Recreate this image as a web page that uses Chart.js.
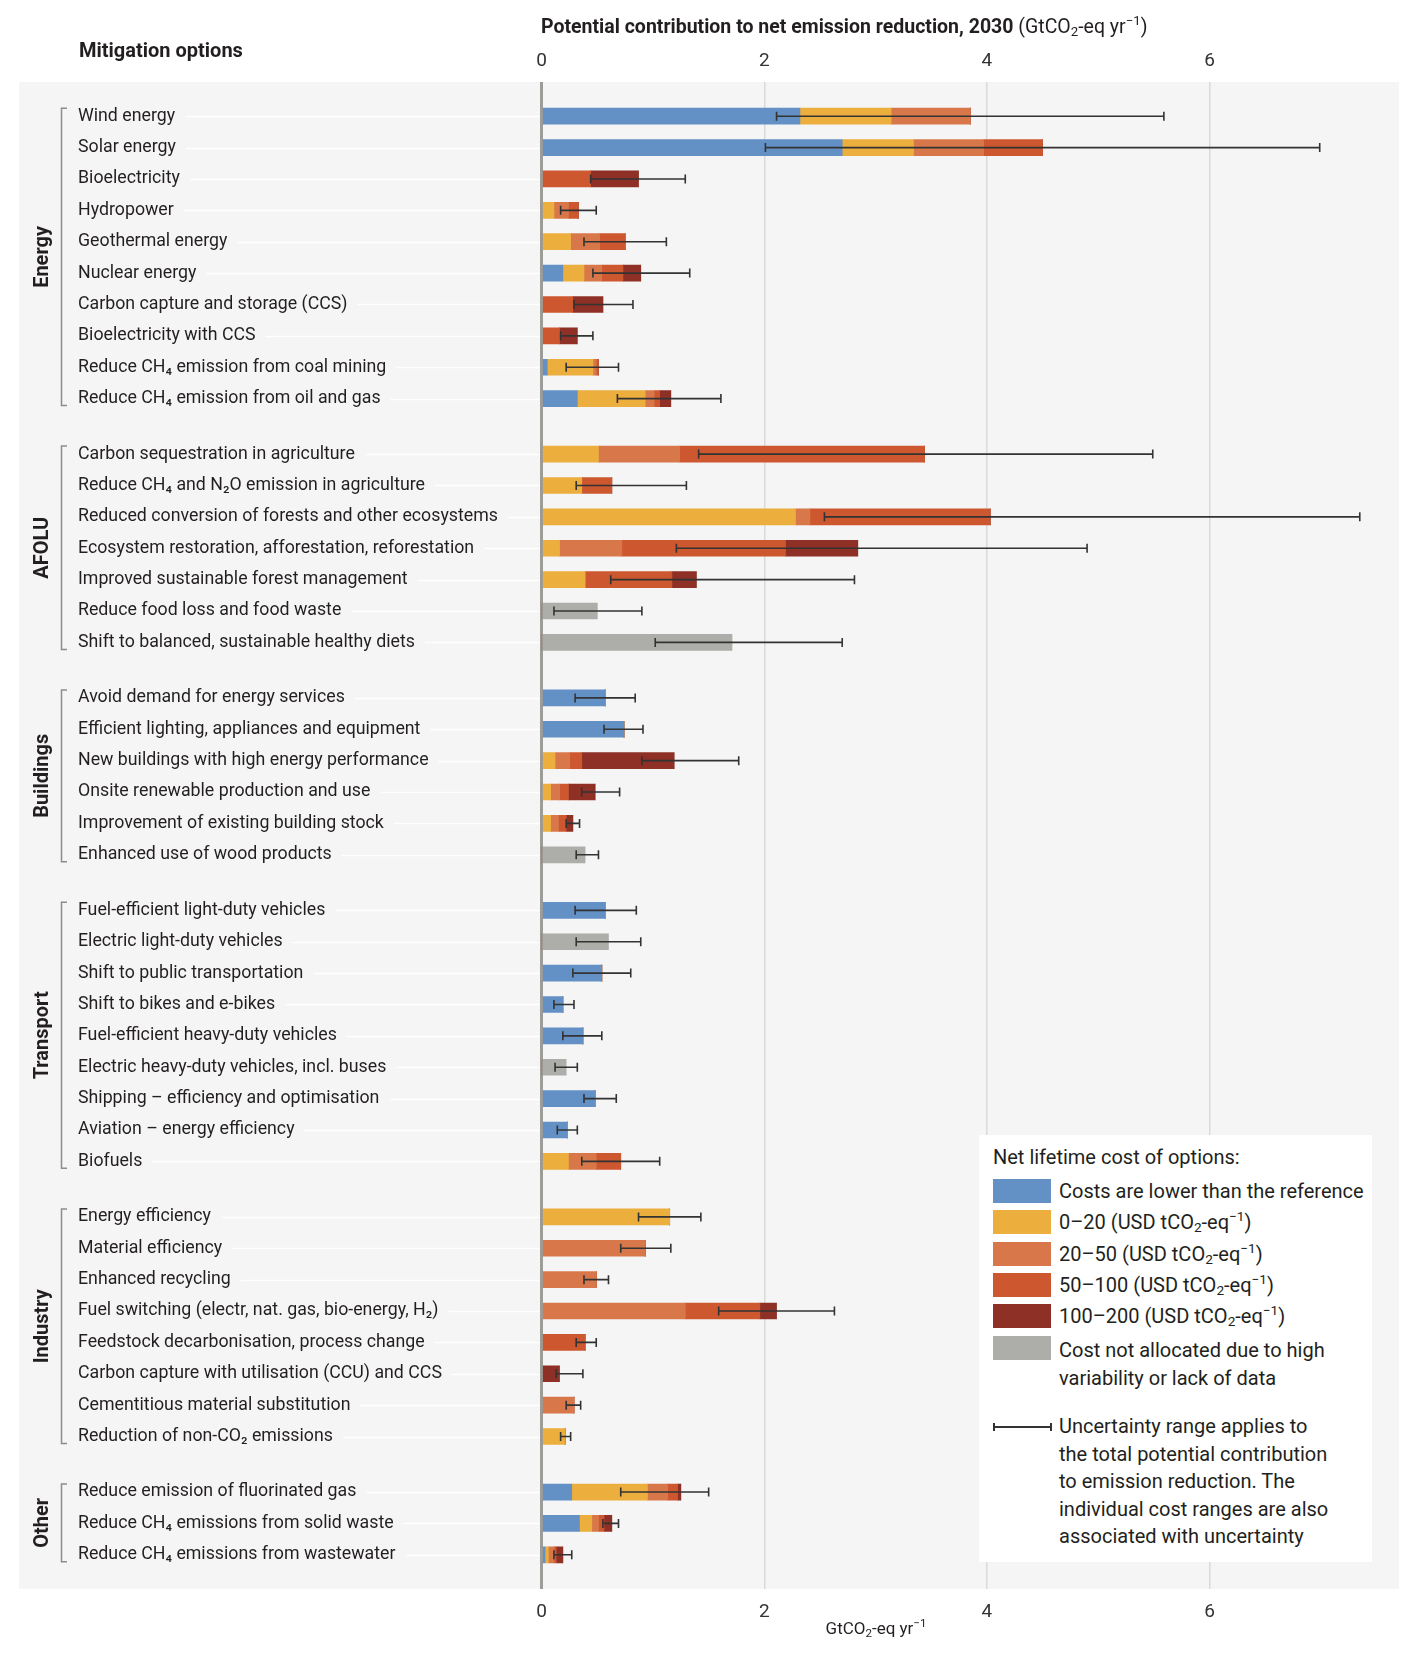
<!DOCTYPE html>
<html>
<head>
<meta charset="utf-8">
<script src="https://cdn.jsdelivr.net/npm/chart.js@4.4.1/dist/chart.umd.min.js"></script>
<style>
  html, body { margin: 0; padding: 0; background: #fff; }
  #wrap { position: relative; width: 1420px; height: 1654px; color: #231f20; font-family: "Liberation Sans Narrow", Roboto, sans-serif; }
  #chartBox { position: absolute; left: 0; top: 0; width: 1420px; height: 1654px; }
  .abs { position: absolute; white-space: nowrap; line-height: 24px; }
  sub, sup { font-size: 68%; line-height: 0; }
  sub { vertical-align: -0.25em; }
  sup { vertical-align: 0.6em; }
  #legend { position: absolute; left: 979px; top: 1135px; width: 393px; height: 427px; background: #fff; }
  #legend .abs { font-size: 20px; }
  .swatch { position: absolute; left: 14px; width: 58px; height: 24px; }
</style>
</head>
<body>
<div id="wrap">
  <div id="chartBox"><canvas id="myChart"></canvas></div>

  <div class="abs" style="left:541px; top:15px; font-size:19.5px;"><b>Potential contribution to net emission reduction, 2030</b> (GtCO<sub>2</sub>-eq yr<sup>−1</sup>)</div>
  <div class="abs" style="left:79px; top:38px; font-size:20px; font-weight:bold;">Mitigation options</div>
  <div class="abs" style="left:876px; top:1616px; font-size:17px; transform:translateX(-50%);">GtCO<sub>2</sub>-eq yr<sup>−1</sup></div>

  <div id="legend">
    <div class="abs" style="left:14px; top:10px;">Net lifetime cost of options:</div>
    <div class="swatch" style="top:44px; background:#6391c5;"></div>
    <div class="abs" style="left:80px; top:44px;">Costs are lower than the reference</div>
    <div class="swatch" style="top:75px; background:#ecae3c;"></div>
    <div class="abs" style="left:80px; top:75px;">0–20 (USD tCO<sub>2</sub>-eq<sup>−1</sup>)</div>
    <div class="swatch" style="top:107px; background:#d8784a;"></div>
    <div class="abs" style="left:80px; top:107px;">20–50 (USD tCO<sub>2</sub>-eq<sup>−1</sup>)</div>
    <div class="swatch" style="top:138px; background:#cd572e;"></div>
    <div class="abs" style="left:80px; top:138px;">50–100 (USD tCO<sub>2</sub>-eq<sup>−1</sup>)</div>
    <div class="swatch" style="top:169px; background:#8e3025;"></div>
    <div class="abs" style="left:80px; top:169px;">100–200 (USD tCO<sub>2</sub>-eq<sup>−1</sup>)</div>
    <div class="swatch" style="top:201px; background:#adada9;"></div>
    <div class="abs" style="left:80px; top:201px; line-height:28px;">Cost not allocated due to high<br>variability or lack of data</div>
    <div style="position:absolute; left:14px; top:291px; width:58px; height:1.5px; background:#333;"></div>
    <div style="position:absolute; left:14px; top:288px; width:1.5px; height:8px; background:#333;"></div>
    <div style="position:absolute; left:71px; top:288px; width:1.5px; height:8px; background:#333;"></div>
    <div class="abs" style="left:80px; top:278px; line-height:27.5px;">Uncertainty range applies to<br>the total potential contribution<br>to emission reduction. The<br>individual cost ranges are also<br>associated with uncertainty</div>
  </div>
</div>

<script>
// Ryhmät ja niiden rivimäärät
const groupNames = ['Energy', 'AFOLU', 'Buildings', 'Transport', 'Industry', 'Other'];
const groupSizes = [10, 7, 6, 9, 8, 3];

const mitigationOptions = [
  'Wind energy', 'Solar energy', 'Bioelectricity', 'Hydropower', 'Geothermal energy',
  'Nuclear energy', 'Carbon capture and storage (CCS)', 'Bioelectricity with CCS',
  'Reduce CH₄ emission from coal mining', 'Reduce CH₄ emission from oil and gas',
  'Carbon sequestration in agriculture', 'Reduce CH₄ and N₂O emission in agriculture',
  'Reduced conversion of forests and other ecosystems', 'Ecosystem restoration, afforestation, reforestation',
  'Improved sustainable forest management', 'Reduce food loss and food waste',
  'Shift to balanced, sustainable healthy diets',
  'Avoid demand for energy services', 'Efficient lighting, appliances and equipment',
  'New buildings with high energy performance', 'Onsite renewable production and use',
  'Improvement of existing building stock', 'Enhanced use of wood products',
  'Fuel-efficient light-duty vehicles', 'Electric light-duty vehicles', 'Shift to public transportation',
  'Shift to bikes and e-bikes', 'Fuel-efficient heavy-duty vehicles', 'Electric heavy-duty vehicles, incl. buses',
  'Shipping – efficiency and optimisation', 'Aviation – energy efficiency', 'Biofuels',
  'Energy efficiency', 'Material efficiency', 'Enhanced recycling',
  'Fuel switching (electr, nat. gas, bio-energy, H₂)', 'Feedstock decarbonisation, process change',
  'Carbon capture with utilisation (CCU) and CCS', 'Cementitious material substitution',
  'Reduction of non-CO₂ emissions',
  'Reduce emission of fluorinated gas', 'Reduce CH₄ emissions from solid waste',
  'Reduce CH₄ emissions from wastewater'
];

// Segmenttien pituudet (GtCO2-eq/yr), rivijärjestyksessä
const lowerCost = [
  2.32, 2.70, 0, 0, 0, 0.19, 0, 0, 0.05, 0.32,
  0, 0, 0, 0, 0, 0, 0,
  0.57, 0.74, 0, 0, 0, 0,
  0.57, 0, 0.54, 0.19, 0.37, 0, 0.48, 0.23, 0,
  0, 0, 0, 0, 0, 0, 0, 0,
  0.27, 0.34, 0.03
];
const cost0to20 = [
  0.82, 0.64, 0, 0.11, 0.26, 0.19, 0, 0, 0.41, 0.61,
  0.51, 0.36, 2.28, 0.16, 0.39, 0, 0,
  0, 0, 0.12, 0.08, 0.08, 0,
  0, 0, 0, 0, 0, 0, 0, 0, 0.24,
  1.15, 0, 0, 0, 0, 0, 0, 0.21,
  0.68, 0.11, 0.03
];
const cost20to50 = [
  0.71, 0.63, 0, 0.13, 0.26, 0.16, 0, 0, 0.03, 0.08,
  0.73, 0, 0.13, 0.56, 0, 0, 0,
  0, 0, 0.13, 0.08, 0.07, 0,
  0, 0, 0, 0, 0, 0, 0, 0, 0.25,
  0, 0.93, 0.49, 1.29, 0, 0, 0.29, 0,
  0.18, 0.06, 0.05
];
const cost50to100 = [
  0, 0.53, 0.44, 0.09, 0.23, 0.19, 0.28, 0.16, 0.02, 0.05,
  2.20, 0.27, 1.62, 1.47, 0.78, 0, 0,
  0, 0, 0.11, 0.08, 0.07, 0,
  0, 0, 0, 0, 0, 0, 0, 0, 0.22,
  0, 0, 0, 0.67, 0.39, 0, 0, 0,
  0.09, 0.05, 0.02
];
const cost100to200 = [
  0, 0, 0.43, 0, 0, 0.16, 0.27, 0.16, 0, 0.10,
  0, 0, 0, 0.65, 0.22, 0, 0,
  0, 0, 0.83, 0.24, 0.06, 0,
  0, 0, 0, 0, 0, 0, 0, 0, 0,
  0, 0, 0, 0.15, 0, 0.16, 0, 0,
  0.03, 0.07, 0.06
];
const notAllocated = [
  0, 0, 0, 0, 0, 0, 0, 0, 0, 0,
  0, 0, 0, 0, 0, 0.50, 1.71,
  0, 0, 0, 0, 0, 0.39,
  0, 0.60, 0, 0, 0, 0.22, 0, 0, 0,
  0, 0, 0, 0, 0, 0, 0, 0,
  0, 0, 0
];

// Epävarmuusväli (koko potentiaali)
const rangeLow = [
  2.11, 2.01, 0.44, 0.17, 0.38, 0.46, 0.29, 0.17, 0.22, 0.68,
  1.41, 0.31, 2.54, 1.21, 0.62, 0.11, 1.02,
  0.30, 0.56, 0.90, 0.36, 0.22, 0.31,
  0.30, 0.31, 0.28, 0.11, 0.19, 0.12, 0.38, 0.14, 0.36,
  0.87, 0.71, 0.38, 1.59, 0.31, 0.13, 0.22, 0.17,
  0.71, 0.55, 0.11
];
const rangeHigh = [
  5.59, 6.99, 1.29, 0.49, 1.12, 1.33, 0.82, 0.46, 0.69, 1.61,
  5.49, 1.30, 7.35, 4.90, 2.81, 0.90, 2.70,
  0.84, 0.91, 1.77, 0.70, 0.34, 0.51,
  0.85, 0.89, 0.80, 0.29, 0.54, 0.32, 0.67, 0.32, 1.06,
  1.43, 1.16, 0.60, 2.63, 0.49, 0.37, 0.35, 0.26,
  1.50, 0.69, 0.27
];

const xTicks = [0, 2, 4, 6];

// Rivien paikat y-akselilla: ryhmien väliin pieni lisärako
const GROUP_GAP = 0.77;
const rowPos = [];
const groupRows = [];
let pos = 0;
groupSizes.forEach(function(n) {
  const rows = [];
  for (let k = 0; k < n; k++) {
    rowPos.push(pos);
    rows.push(pos);
    pos += 1;
  }
  groupRows.push(rows);
  pos += GROUP_GAP;
});
const lastPos = rowPos[rowPos.length - 1];

// Fontti: kapea jos saatavilla, koko sovitetaan pisimpään tekstiin
function pickLabelFont() {
  const c = document.createElement('canvas').getContext('2d');
  c.font = '20px monospace';
  const w0 = c.measureText('abcdefghijklmnop').width;
  c.font = '20px "Liberation Sans Narrow", monospace';
  const w1 = c.measureText('abcdefghijklmnop').width;
  const family = (w0 !== w1) ? '"Liberation Sans Narrow"' : 'Roboto';
  c.font = '20px ' + family;
  const widest = Math.max.apply(null, mitigationOptions.map(l => c.measureText(l).width));
  return { family: family, size: Math.min(20, 20 * 420 / widest) };
}
const labelFont = pickLabelFont();
document.getElementById('wrap').style.fontFamily = labelFont.family + ', Roboto, sans-serif';

const textColor = '#231f20';
const panel = { left: 19, top: 82, right: 1399, bottom: 1589 };

function makeSet(label, values, color) {
  return {
    label: label,
    data: values.map((v, i) => ({ x: v, y: rowPos[i] })),
    backgroundColor: color,
    borderWidth: 0,
    barThickness: 16
  };
}

const decorPlugin = {
  id: 'decor',
  beforeDraw(chart) {
    const ctx = chart.ctx;
    ctx.save();
    ctx.fillStyle = '#f5f5f5';
    ctx.fillRect(panel.left, panel.top, panel.right - panel.left, panel.bottom - panel.top);
    // valkoiset ohjaviivat nimestä akseliin asti
    const y = chart.scales.y;
    ctx.font = labelFont.size + 'px ' + labelFont.family;
    ctx.strokeStyle = '#ffffff';
    ctx.lineWidth = 1.5;
    rowPos.forEach(function(p, i) {
      const py = Math.round(y.getPixelForValue(p)) + 0.5;
      const x0 = y.left + ctx.measureText(mitigationOptions[i]).width + 10;
      ctx.beginPath();
      ctx.moveTo(x0, py);
      ctx.lineTo(chart.chartArea.left - 2, py);
      ctx.stroke();
    });
    ctx.restore();
  },
  afterDatasetsDraw(chart) {
    const ctx = chart.ctx;
    const x = chart.scales.x;
    const y = chart.scales.y;
    ctx.save();
    ctx.strokeStyle = '#333333';
    ctx.lineWidth = 1.6;
    rowPos.forEach(function(p, i) {
      const py = y.getPixelForValue(p);
      const x0 = x.getPixelForValue(rangeLow[i]);
      const x1 = x.getPixelForValue(rangeHigh[i]);
      ctx.beginPath();
      ctx.moveTo(x0, py);
      ctx.lineTo(x1, py);
      ctx.moveTo(x0, py - 4.5);
      ctx.lineTo(x0, py + 4.5);
      ctx.moveTo(x1, py - 4.5);
      ctx.lineTo(x1, py + 4.5);
      ctx.stroke();
    });

    // ryhmien sulut ja nimet
    ctx.strokeStyle = '#8c8c8c';
    ctx.lineWidth = 1.5;
    ctx.fillStyle = textColor;
    ctx.font = 'bold 20px ' + labelFont.family;
    ctx.textAlign = 'center';
    ctx.textBaseline = 'middle';
    groupRows.forEach(function(rows, g) {
      const top = y.getPixelForValue(rows[0]) - 8;
      const bottom = y.getPixelForValue(rows[rows.length - 1]) + 7;
      ctx.beginPath();
      ctx.moveTo(67, top);
      ctx.lineTo(61.5, top);
      ctx.lineTo(61.5, bottom);
      ctx.lineTo(67, bottom);
      ctx.stroke();
      ctx.save();
      ctx.translate(43, (top + bottom) / 2);
      ctx.rotate(-Math.PI / 2);
      ctx.fillText(groupNames[g], 0, 0);
      ctx.restore();
    });
    ctx.restore();
  }
};

const config = {
  type: 'bar',
  data: {
    datasets: [
      makeSet('Costs are lower than the reference', lowerCost, '#6391c5'),
      makeSet('0–20 (USD tCO₂-eq⁻¹)', cost0to20, '#ecae3c'),
      makeSet('20–50 (USD tCO₂-eq⁻¹)', cost20to50, '#d8784a'),
      makeSet('50–100 (USD tCO₂-eq⁻¹)', cost50to100, '#cd572e'),
      makeSet('100–200 (USD tCO₂-eq⁻¹)', cost100to200, '#8e3025'),
      makeSet('Cost not allocated due to high variability or lack of data', notAllocated, '#adada9')
    ]
  },
  options: {
    indexAxis: 'y',
    responsive: true,
    maintainAspectRatio: false,
    animation: false,
    layout: { padding: { left: 78, right: 32.4, top: 42, bottom: 25 } },
    plugins: {
      legend: { display: false },
      tooltip: { enabled: false },
      title: { display: false }
    },
    scales: {
      x: {
        type: 'linear',
        position: 'bottom',
        stacked: true,
        min: 0,
        max: 7.6,
        afterFit: function(scale) { scale.height = 40; },
        afterBuildTicks: function(scale) { scale.ticks = xTicks.map(v => ({ value: v })); },
        ticks: {
          includeBounds: false,
          padding: 12,
          color: '#333',
          font: { family: labelFont.family, size: 19 }
        },
        border: { display: false },
        grid: {
          drawTicks: false,
          color: ctx => ctx.tick && ctx.tick.value === 0 ? '#9c9c98' : '#dadada',
          lineWidth: ctx => ctx.tick && ctx.tick.value === 0 ? 3 : 1.5
        }
      },
      x2: {
        type: 'linear',
        position: 'top',
        min: 0,
        max: 7.6,
        afterFit: function(scale) { scale.height = 40; },
        afterBuildTicks: function(scale) { scale.ticks = xTicks.map(v => ({ value: v })); },
        ticks: {
          includeBounds: false,
          padding: 9,
          color: '#333',
          font: { family: labelFont.family, size: 19 }
        },
        border: { display: false },
        grid: { display: false, drawTicks: false }
      },
      y: {
        type: 'linear',
        stacked: true,
        reverse: true,
        offset: false,
        min: -1.09,
        max: lastPos + 1.09,
        afterFit: function(scale) { scale.width = 541.7 - 78; },
        afterBuildTicks: function(scale) { scale.ticks = rowPos.map(v => ({ value: v })); },
        ticks: {
          autoSkip: false,
          crossAlign: 'far',
          color: textColor,
          font: { family: labelFont.family, size: labelFont.size },
          callback: function(value, index) { return mitigationOptions[index]; }
        },
        border: { display: false },
        grid: { display: false, drawTicks: false, offset: false }
      }
    }
  },
  plugins: [decorPlugin]
};

const myChart = new Chart(document.getElementById('myChart'), config);
</script>
</body>
</html>
